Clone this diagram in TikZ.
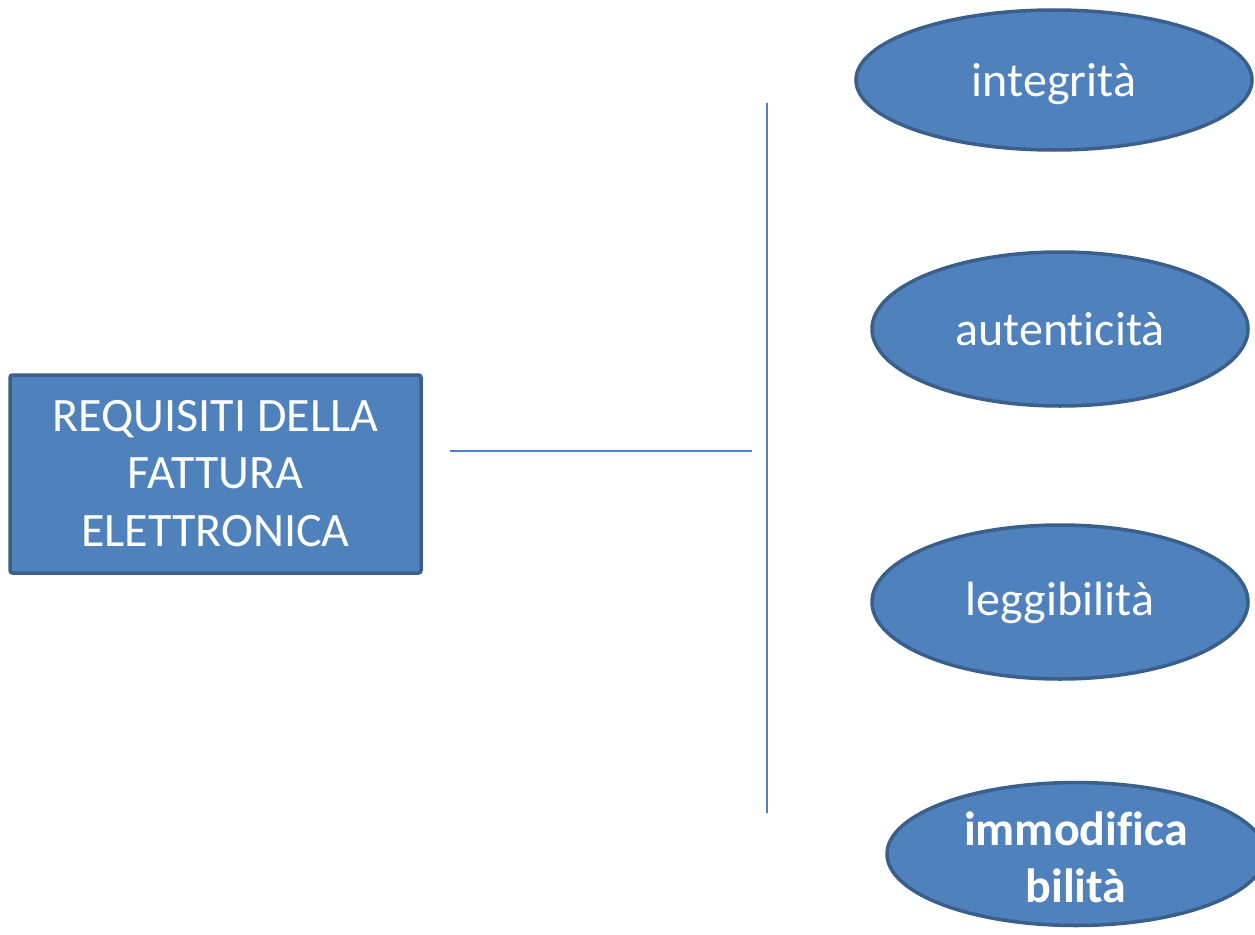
\documentclass[tikz,border=0pt]{standalone}
\usepackage{fontspec}
\setmainfont{Carlito}[Ligatures={NoCommon,NoRare},Contextuals=NoAlternate]
\usetikzlibrary{shapes.geometric}
\definecolor{fillblue}{HTML}{4F81BD}
\definecolor{edgeblue}{HTML}{3A5F8B}
\newcommand{\lowered}[2]{\raisebox{#1}[0pt][0pt]{#2}}
\begin{document}
\begin{tikzpicture}[x=1pt,y=-1pt,
  boxnode/.style={draw=edgeblue,fill=fillblue,line width=3.5pt,rounded corners=2.5pt,
    minimum width=411pt,minimum height=198pt,inner sep=0pt,text=white,align=center,
    font=\fontsize{48}{57.5}\selectfont},
  ovalnode/.style={ellipse,draw=edgeblue,fill=fillblue,line width=3.5pt,inner sep=0pt,
    text=white,align=center,font=\fontsize{48}{57.5}\selectfont},
  linkline/.style={draw=fillblue,line width=2pt}]
\useasboundingbox (0,0) rectangle (1255,934);
\clip (0,0) rectangle (1255,934);
\node[boxnode] (main) at (215.5,474) {\lowered{43pt}{\begin{tabular}[t]{@{}c@{}}REQUISITI DELLA\\FATTURA\\ELETTRONICA\end{tabular}}};
\node[ovalnode,minimum width=396pt,minimum height=140pt] (integ) at (1054,80) {\lowered{-17pt}{integrità}};
\node[ovalnode,minimum width=376pt,minimum height=154pt] (auth) at (1060,329) {\lowered{-16pt}{autenticità}};
\node[ovalnode,minimum width=376pt,minimum height=154pt] (legg) at (1060,602) {\lowered{-13pt}{leggibilità}};
\node[ovalnode,minimum width=378pt,minimum height=143pt] (immod) at (1076,854) {\lowered{9pt}{\bfseries\begin{tabular}[t]{@{}c@{}}immodifica\\bilità\end{tabular}}};
\coordinate (hA) at (450,451);
\coordinate (hB) at (752,451);
\coordinate (vA) at (767,103);
\coordinate (vB) at (767,813);
\draw[linkline] (hA) -- (hB);
\draw[linkline] (vA) -- (vB);
\end{tikzpicture}
\end{document}
